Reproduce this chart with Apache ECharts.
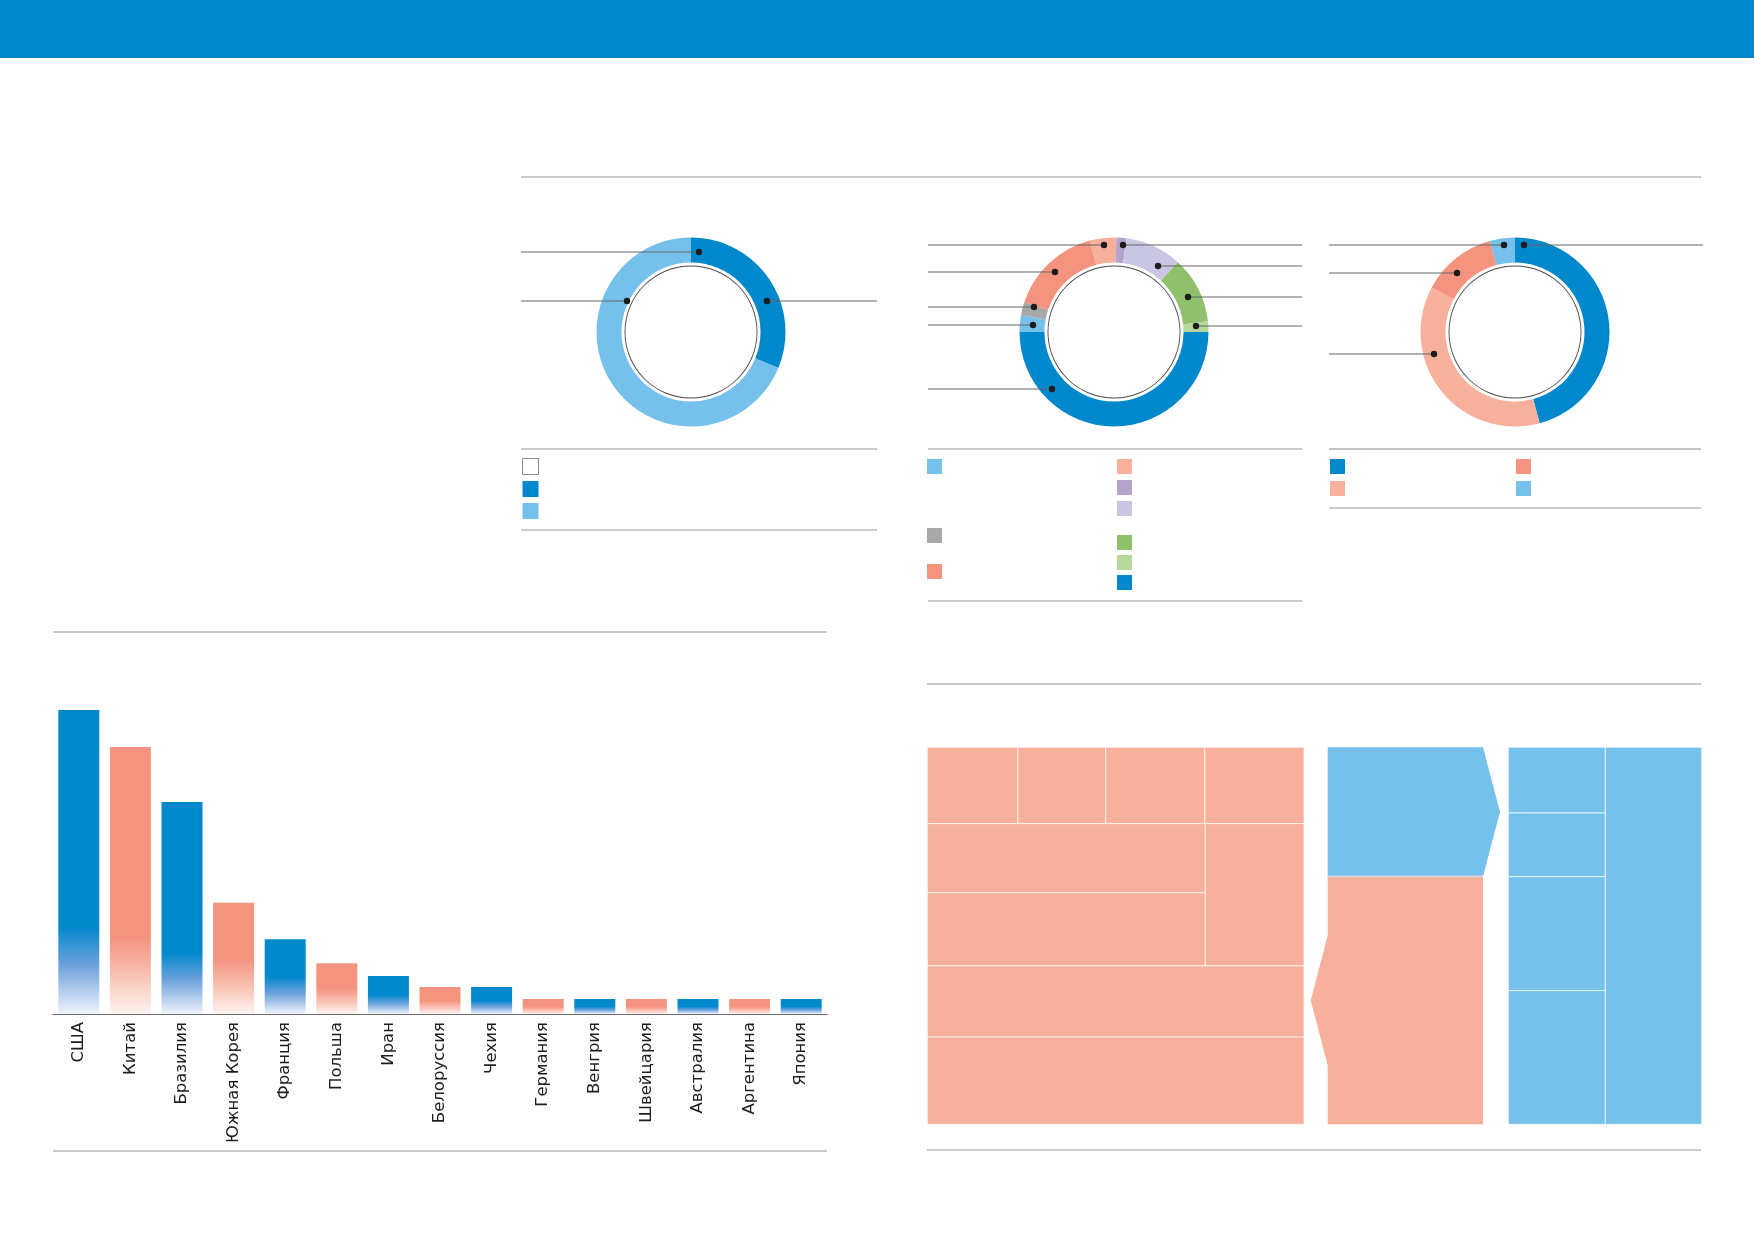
<!DOCTYPE html>
<html lang="ru">
<head>
<meta charset="utf-8">
<title>chart</title>
<script src="https://cdn.jsdelivr.net/npm/echarts@6.0.0/dist/echarts.min.js"></script>
<style>
    html, body { margin: 0; padding: 0; background: #ffffff; }
    #chart { width: 1754px; height: 1239px; }
</style>
</head>
<body>
<div id="chart"></div>
<script>
// bar chart: countries and their values (USA = 100)
const countries = ['США', 'Китай', 'Бразилия', 'Южная Корея', 'Франция', 'Польша', 'Иран',
    'Белоруссия', 'Чехия', 'Германия', 'Венгрия', 'Швейцария', 'Австралия', 'Аргентина', 'Япония'];
const countryValues = [100, 87.8, 69.7, 36.6, 24.6, 16.7, 12.5, 8.9, 8.9, 4.9, 4.9, 4.9, 4.9, 4.9, 4.9];

// donuts, shares in %
const donut1Values = [31.2, 68.8];
const donut2Values = [2.9, 2.2, 15.8, 4.5, 1.7, 9.7, 11.4, 1.8, 50.0];
const donut3Values = [45.8, 37.0, 12.9, 4.3];

// treemap blocks, shares of the whole in %
const salmonCells = [3.2, 3.1, 3.5, 3.5, 8.9, 9.4, 6.5, 12.4, 15.2];
const blueCells = [3.0, 2.9, 5.2, 6.1, 17.1];

(function () {
    const C = {
        blue: '#0088cc', sky: '#75c1eb', salmon: '#f4937e', peach: '#f6b09b', gray: '#a8a8aa',
        plum: '#b4a3cb', lilac: '#c9c6e4', green: '#8fc06b', lime: '#b6d89b'
    };
    const donut1Colors = [C.blue, C.sky];
    const donut2Colors = [C.sky, C.gray, C.salmon, C.peach, C.plum, C.lilac, C.green, C.lime, C.blue];
    const donut3Colors = [C.blue, C.peach, C.salmon, C.sky];

    // how the treemap blocks are sliced (indices into the cell arrays)
    const salmonSplit = ['y', ['x', 0, 1, 2, 3], ['x', ['y', 4, 5], 6], 7, 8];
    const blueSplit = ['x', ['y', 0, 1, 2, 3], 4];

    function total(node, cells) {
        if (typeof node === 'number')
            return cells[node];
        return node.slice(1).reduce((s, k) => s + total(k, cells), 0);
    }
    function slice(node, cells, x0, y0, x1, y1, out) {
        if (typeof node === 'number') {
            out[node] = [x0, y0, x1, y1];
            return out;
        }
        const axis = node[0];
        const kids = node.slice(1);
        const sum = total(node, cells);
        let pos = axis === 'x' ? x0 : y0;
        kids.forEach(k => {
            const span = total(k, cells) / sum * (axis === 'x' ? x1 - x0 : y1 - y0);
            if (axis === 'x')
                slice(k, cells, pos, y0, pos + span, y1, out);
            else
                slice(k, cells, x0, pos, x1, pos + span, out);
            pos += span;
        });
        return out;
    }

    function barColor(i, v) {
        const isBlue = i % 2 === 0;
        const base = isBlue ? C.blue : C.salmon;
        const mid = isBlue ? '#6ea2dc' : '#f8bcad';
        const end = isBlue ? '#f0f4fc' : '#fef4f1';
        const fs = v >= 50 ? 0.71 : 0.5;
        return {
            type: 'linear', x: 0, y: 0, x2: 0, y2: 1,
            colorStops: [
                { offset: 0, color: base },
                { offset: fs, color: base },
                { offset: fs + (1 - fs) * 0.45, color: mid },
                { offset: 1, color: end }
            ]
        };
    }

    function donut(key, center, values, colors) {
        return [{
                type: 'pie',
                center: center,
                radius: [69.5, 94.5],
                startAngle: key === 'd2' ? 180 : 90,
                silent: true,
                label: { show: false },
                labelLine: { show: false },
                itemStyle: { borderWidth: 0 },
                data: values.map((v, i) => ({ name: key + '_' + i, value: v, itemStyle: { color: colors[i] } }))
            }, {
                type: 'pie',
                center: center,
                radius: [65.6, 66.5],
                silent: true,
                label: { show: false },
                labelLine: { show: false },
                itemStyle: { borderWidth: 0 },
                data: [{ name: key + '_c', value: 1, itemStyle: { color: '#4a4a4a' } }]
            }];
    }

    function legendBlock(items, left, top, size, gap) {
        return {
            orient: 'vertical',
            left: left,
            top: top,
            padding: 0,
            itemWidth: size,
            itemHeight: size,
            itemGap: gap,
            icon: 'rect',
            selectedMode: false,
            formatter: () => '',
            textStyle: { fontSize: 8, lineHeight: 8 },
            data: items
        };
    }

    const legends = [
        legendBlock([{ name: 'd1_c', itemStyle: { color: '#ffffff', borderColor: '#8a8a8a', borderWidth: 1 } }, 'd1_0', 'd1_1'], 522, 458, 16, 6),
        legendBlock(['d2_0'], 927, 459, 15, 5),
        legendBlock(['d2_1'], 927, 528, 15, 5),
        legendBlock(['d2_2'], 927, 564, 15, 5),
        legendBlock(['d2_3', 'd2_4', 'd2_5'], 1117, 459, 15, 6),
        legendBlock(['d2_6', 'd2_7', 'd2_8'], 1117, 535, 15, 5),
        legendBlock(['d3_0', 'd3_1'], 1330, 459, 15, 7),
        legendBlock(['d3_2', 'd3_3'], 1516, 459, 15, 7)
    ];

    // separator rules: x1, x2, y, colour, width
    const rules = [
        [521, 1701, 177, '#959595', 1.2],
        [521, 877, 449, '#959595', 1.2], [521, 877, 530, '#959595', 1.2],
        [928, 1302, 449, '#959595', 1.2], [928, 1302, 601, '#959595', 1.2],
        [1329, 1701, 449, '#858585', 1.2], [1329, 1701, 508, '#959595', 1.2],
        [53, 827, 632, '#959595', 1.2], [53, 827, 1151, '#959595', 1.2],
        [927, 1701, 684, '#c8c8c8', 2], [927, 1701, 1150, '#959595', 1.2]
    ];
    // leader lines: y, dot x, free end x
    const leaders = [
        [252, 699, 521], [301, 627, 521], [301, 767, 877],
        [245, 1104, 928], [272, 1055, 928], [307, 1034, 928], [325, 1033, 928], [389, 1052, 928],
        [245, 1123, 1302], [266, 1158, 1302], [297, 1188, 1302], [326, 1196, 1302],
        [245, 1504, 1329], [245, 1524, 1703], [273, 1457, 1329], [354, 1434, 1329]
    ];

    const graphic = [{ type: 'rect', shape: { x: 0, y: 0, width: 1754, height: 58 }, style: { fill: C.blue }, silent: true }];
    rules.forEach(r => graphic.push({
        type: 'line', silent: true,
        shape: { x1: r[0], y1: r[2], x2: r[1], y2: r[2] },
        style: { stroke: r[3], lineWidth: r[4] }
    }));
    leaders.forEach(l => {
        graphic.push({
            type: 'line', silent: true, z: 100,
            shape: { x1: l[1], y1: l[0], x2: l[2], y2: l[0] },
            style: { stroke: '#666666', lineWidth: 1.1 }
        });
        graphic.push({
            type: 'circle', silent: true, z: 101,
            shape: { cx: l[1], cy: l[0], r: 3.2 },
            style: { fill: '#1c1c1c' }
        });
    });

    const salmonRects = slice(salmonSplit, salmonCells, 0, 0, 1, 1, []);
    const blueRects = slice(blueSplit, blueCells, 0, 0, 1, 1, []);
    const salmonTotal = salmonCells.reduce((a, b) => a + b, 0);
    const blueTotal = blueCells.reduce((a, b) => a + b, 0);

    function cellRender(color) {
        return function (params, api) {
            const p0 = api.coord([api.value(0), api.value(1)]);
            const p1 = api.coord([api.value(2), api.value(3)]);
            return {
                type: 'rect',
                shape: { x: p0[0], y: p0[1], width: p1[0] - p0[0], height: p1[1] - p0[1] },
                style: { fill: color, stroke: 'rgba(255,255,255,0.7)', lineWidth: 1 }
            };
        };
    }
    function splitRender(params, api) {
        const a = api.coord([api.value(0), api.value(1)]);
        const b = api.coord([api.value(2), api.value(3)]);
        const midY = (a[1] + b[1]) / 2;
        const tip = 17;
        if (params.dataIndex === 0) {
            return {
                type: 'group',
                children: [{
                        type: 'polygon',
                        shape: { points: [[a[0], a[1]], [b[0], a[1]], [b[0] + tip, midY], [b[0], b[1]], [a[0], b[1]]] },
                        style: { fill: C.sky }
                    }, {
                        type: 'line',
                        shape: { x1: a[0], y1: b[1], x2: b[0], y2: b[1] },
                        style: { stroke: '#d4d4d4', lineWidth: 2 },
                        z2: 10
                    }]
            };
        }
        return {
            type: 'polygon',
            shape: { points: [[a[0], a[1]], [b[0], a[1]], [b[0], b[1]], [a[0], b[1]],
                    [a[0], midY + 65], [a[0] - tip, midY], [a[0], midY - 65]] },
            style: { fill: C.peach }
        };
    }

    const hiddenValue = (grid, max, inverse) => ({ type: 'value', gridIndex: grid, min: 0, max: max, inverse: !!inverse, show: false });

    const option = {
        animation: false,
        graphic: graphic,
        legend: legends,
        grid: [
            { left: 53, right: 927, top: 710, bottom: 225, outerBoundsMode: 'none' },
            { left: 927.3, top: 747.3, width: 376.7, height: 377, outerBoundsMode: 'none' },
            { left: 1327.7, top: 747.3, width: 155.3, height: 377, outerBoundsMode: 'none' },
            { left: 1508.3, top: 747.3, width: 193.4, height: 377, outerBoundsMode: 'none' }
        ],
        xAxis: [
            {
                type: 'category',
                gridIndex: 0,
                data: countries,
                axisLine: { lineStyle: { color: '#6b6b6b', width: 1 } },
                axisTick: { show: false },
                axisLabel: { rotate: 90, interval: 0, margin: 8, fontFamily: 'DejaVu Sans', fontSize: 16.5, color: '#1e1e1e' }
            },
            hiddenValue(1, 1), hiddenValue(2, 1), hiddenValue(3, 1)
        ],
        yAxis: [
            { type: 'value', gridIndex: 0, min: 0, max: 100, show: false, splitLine: { show: false } },
            hiddenValue(1, 1, true), hiddenValue(2, salmonTotal + blueTotal, true), hiddenValue(3, 1, true)
        ],
        series: [
            {
                type: 'bar',
                xAxisIndex: 0,
                yAxisIndex: 0,
                barWidth: 41,
                silent: true,
                data: countryValues.map((v, i) => ({ value: v, itemStyle: { color: barColor(i, v) } }))
            },
            ...donut('d1', [691, 332], donut1Values, donut1Colors),
            ...donut('d2', [1114, 332], donut2Values, donut2Colors),
            ...donut('d3', [1515, 332], donut3Values, donut3Colors),
            {
                type: 'custom', xAxisIndex: 1, yAxisIndex: 1, silent: true,
                encode: { x: [0, 2], y: [1, 3] },
                renderItem: cellRender(C.peach),
                data: salmonRects
            },
            {
                type: 'custom', xAxisIndex: 2, yAxisIndex: 2, silent: true, clip: false,
                encode: { x: [0, 2], y: [1, 3] },
                renderItem: splitRender,
                data: [[0, 0, 1, blueTotal], [0, blueTotal, 1, blueTotal + salmonTotal]]
            },
            {
                type: 'custom', xAxisIndex: 3, yAxisIndex: 3, silent: true,
                encode: { x: [0, 2], y: [1, 3] },
                renderItem: cellRender(C.sky),
                data: blueRects
            }
        ]
    };

    const chart = echarts.init(document.getElementById('chart'));
    chart.setOption(option);
    window.addEventListener('resize', function () {
        chart.resize();
    });
})();
</script>
</body>
</html>
